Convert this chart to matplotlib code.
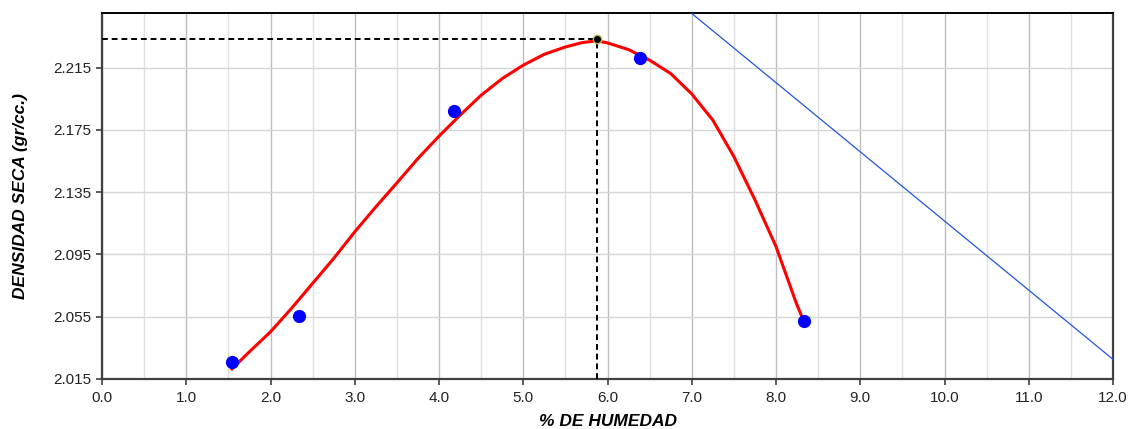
import matplotlib
matplotlib.use("Agg")
import matplotlib.pyplot as plt
from matplotlib.ticker import MultipleLocator, FormatStrFormatter

plt.rcParams['font.family'] = ['Liberation Sans', 'DejaVu Sans']

# ensayo (puntos medidos)
humedad = [1.54, 2.34, 4.18, 6.39, 8.33]
densidad = [2.0259, 2.0554, 2.187, 2.221, 2.0522]

# curva de compactacion
curva_x = [1.53, 1.75, 2.00, 2.25, 2.50, 2.75, 3.00, 3.25, 3.50, 3.75, 4.00,
           4.25, 4.50, 4.75, 5.00, 5.25, 5.50, 5.70, 5.87, 6.00, 6.25, 6.50,
           6.75, 7.00, 7.25, 7.50, 7.75, 8.00, 8.24, 8.32]
curva_y = [2.0208, 2.0325, 2.0453, 2.0604, 2.0764, 2.0924, 2.1095, 2.1255,
           2.1409, 2.1566, 2.1709, 2.1844, 2.1972, 2.2079, 2.2165, 2.2235,
           2.2282, 2.2310, 2.2321, 2.2308, 2.2265, 2.2197, 2.2111, 2.1980,
           2.1812, 2.1578, 2.1300, 2.1000, 2.0638, 2.0533]

# linea de saturacion
sat_x = [7.0, 12.0]
sat_y = [2.2497, 2.0276]

# optimo
hum_opt = 5.875
dens_max = 2.2332

fig = plt.figure(figsize=(11.31, 4.29), dpi=100)
ax = fig.add_axes([0.0902, 0.1166, 0.8939, 0.8531])

ax.set_xlim(0, 12)
ax.set_ylim(2.015, 2.25)
ax.xaxis.set_major_locator(MultipleLocator(1.0))
ax.xaxis.set_minor_locator(MultipleLocator(0.5))
ax.set_yticks([2.015, 2.055, 2.095, 2.135, 2.175, 2.215])
ax.xaxis.set_major_formatter(FormatStrFormatter('%.1f'))
ax.yaxis.set_major_formatter(FormatStrFormatter('%.3f'))

ax.grid(which='major', axis='x', color='#bdbdbd', lw=1.0, zorder=0)
ax.grid(which='minor', axis='x', color='#e0e0e0', lw=1.0, zorder=0)
ax.grid(which='major', axis='y', color='#d6d6d6', lw=1.0, zorder=0)

ax.tick_params(which='major', direction='out', length=4, width=1.2, color='#404040',
               labelsize=11, labelcolor='#222222')
ax.tick_params(which='minor', length=0)
ax.tick_params(axis='x', pad=5)

for side in ['left', 'bottom', 'right']:
    ax.spines[side].set_color('#404040')
    ax.spines[side].set_linewidth(1.6)
ax.spines['top'].set_color('black')
ax.spines['top'].set_linewidth(1.4)

ax.plot(sat_x, sat_y, color='#2255d6', lw=0.9, zorder=3)
ax.plot(curva_x, curva_y, color='#ff0000', lw=2.2, zorder=4,
        solid_capstyle='butt', solid_joinstyle='round')
ax.plot([0, hum_opt], [dens_max, dens_max], color='black', lw=1.4, ls=(0, (3, 2)), zorder=5)
ax.plot([hum_opt, hum_opt], [2.015, dens_max], color='black', lw=1.4, ls=(0, (3, 2)), zorder=5)
ax.plot(humedad, densidad, 'o', color='#0000ff', ms=8.5, mec='#0000ff', zorder=6, clip_on=False)
ax.plot([hum_opt], [dens_max], 'o', color='black', ms=6, mec='#b5b55a', mew=1, zorder=7, clip_on=False)

ax.set_xlabel('% DE HUMEDAD', fontsize=12.5, fontweight='bold', fontstyle='italic', labelpad=6)
ax.set_ylabel('DENSIDAD SECA (gr/cc.)', fontsize=12.5, fontweight='bold', fontstyle='italic', labelpad=18)

fig.savefig('out.png', dpi=100)
